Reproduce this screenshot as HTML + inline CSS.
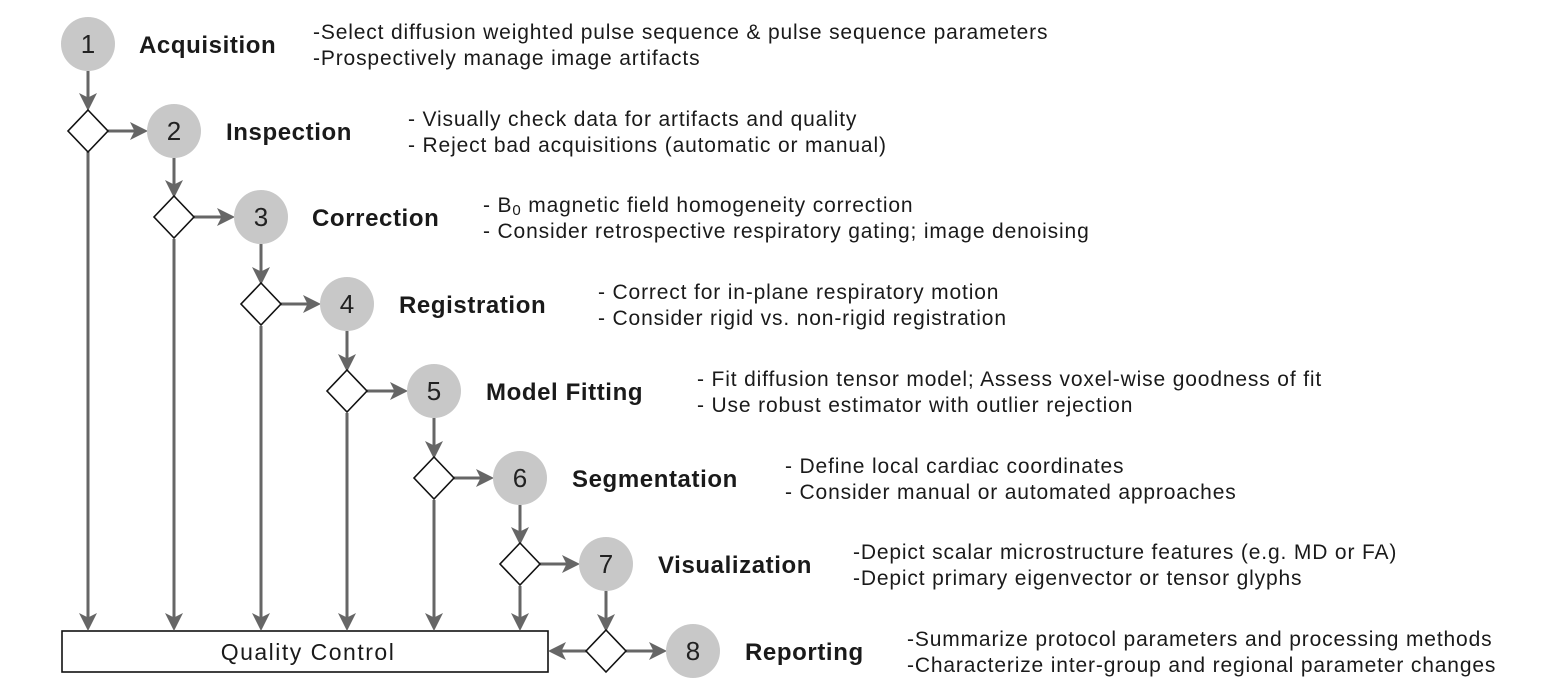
<!DOCTYPE html>
<html><head><meta charset="utf-8"><style>
html,body{margin:0;padding:0;background:#fff;}
svg{display:block;}
.t{font-family:"Liberation Sans",Arial,sans-serif;font-weight:bold;font-size:24px;letter-spacing:0.6px;fill:#1a1a1a;}
.d{font-family:"Liberation Sans",Arial,sans-serif;font-size:21px;letter-spacing:0.85px;fill:#1a1a1a;}
.n{font-family:"Liberation Sans",Arial,sans-serif;font-size:26px;fill:#222;text-anchor:middle;}
.l{stroke:#666;stroke-width:3;fill:none;}
.dm{fill:#fff;stroke:#111;stroke-width:1.6;}
</style></head><body>
<svg width="1553" height="692" viewBox="0 0 1553 692" xmlns="http://www.w3.org/2000/svg">
<defs><marker id="a" markerWidth="6" markerHeight="6" refX="5" refY="3" orient="auto" markerUnits="strokeWidth"><path d="M0,0 L6,3 L0,6 L1.5,3 z" fill="#666"/></marker></defs>
<rect x="62" y="631" width="486" height="41" fill="#fff" stroke="#111" stroke-width="1.6"/>
<text x="308" y="660" text-anchor="middle" style="font-family:'Liberation Sans',Arial,sans-serif;font-size:23px;letter-spacing:1.5px;fill:#1a1a1a">Quality Control</text>

<g class="l" marker-end="url(#a)">
<line x1="88" y1="71" x2="88" y2="108"/>
<line x1="108" y1="131" x2="145" y2="131"/>
<line x1="174" y1="158" x2="174" y2="195"/>
<line x1="194" y1="217" x2="232" y2="217"/>
<line x1="261" y1="244" x2="261" y2="282"/>
<line x1="281" y1="304" x2="318" y2="304"/>
<line x1="347" y1="331" x2="347" y2="369"/>
<line x1="367" y1="391" x2="405" y2="391"/>
<line x1="434" y1="418" x2="434" y2="456"/>
<line x1="454" y1="478" x2="491" y2="478"/>
<line x1="520" y1="505" x2="520" y2="542"/>
<line x1="540" y1="564" x2="577" y2="564"/>
<line x1="606" y1="591" x2="606" y2="629"/>
<line x1="626" y1="651" x2="664" y2="651"/>
<line x1="586" y1="651" x2="551" y2="651"/>
<line x1="88" y1="152" x2="88" y2="628"/>
<line x1="174" y1="239" x2="174" y2="628"/>
<line x1="261" y1="326" x2="261" y2="628"/>
<line x1="347" y1="413" x2="347" y2="628"/>
<line x1="434" y1="500" x2="434" y2="628"/>
<line x1="520" y1="586" x2="520" y2="628"/>
</g>

<g class="dm">
<polygon points="88,110 108,131 88,152 68,131"/>
<polygon points="174,196 194,217 174,238 154,217"/>
<polygon points="261,283 281,304 261,325 241,304"/>
<polygon points="347,370 367,391 347,412 327,391"/>
<polygon points="434,457 454,478 434,499 414,478"/>
<polygon points="520,543 540,564 520,585 500,564"/>
<polygon points="606,630 626,651 606,672 586,651"/>
</g>

<g fill="#c8c8c8">
<circle cx="88" cy="44" r="27"/><circle cx="174" cy="131" r="27"/><circle cx="261" cy="217" r="27"/><circle cx="347" cy="304" r="27"/>
<circle cx="434" cy="391" r="27"/><circle cx="520" cy="478" r="27"/><circle cx="606" cy="564" r="27"/><circle cx="693" cy="651" r="27"/>
</g>
<text class="n" x="88" y="53">1</text><text class="n" x="174" y="140">2</text><text class="n" x="261" y="226">3</text><text class="n" x="347" y="313">4</text>
<text class="n" x="434" y="400">5</text><text class="n" x="520" y="487">6</text><text class="n" x="606" y="573">7</text><text class="n" x="693" y="660">8</text>

<text class="t" x="139" y="53">Acquisition</text>
<text class="t" x="226" y="140">Inspection</text>
<text class="t" x="312" y="226">Correction</text>
<text class="t" x="399" y="313">Registration</text>
<text class="t" x="486" y="400">Model Fitting</text>
<text class="t" x="572" y="487">Segmentation</text>
<text class="t" x="658" y="573">Visualization</text>
<text class="t" x="745" y="660">Reporting</text>

<text class="d" x="313" y="39">-Select diffusion weighted pulse sequence &amp; pulse sequence parameters</text>
<text class="d" x="313" y="65">-Prospectively manage image artifacts</text>
<text class="d" x="408" y="126">- Visually check data for artifacts and quality</text>
<text class="d" x="408" y="152">- Reject bad acquisitions (automatic or manual)</text>
<text class="d" x="483" y="212">- B<tspan font-size="15" dy="3">0</tspan><tspan dy="-3"> magnetic field homogeneity correction</tspan></text>
<text class="d" x="483" y="238">- Consider retrospective respiratory gating; image denoising</text>
<text class="d" x="598" y="299">- Correct for in-plane respiratory motion</text>
<text class="d" x="598" y="325">- Consider rigid vs. non-rigid registration</text>
<text class="d" x="697" y="386">- Fit diffusion tensor model; Assess voxel-wise goodness of fit</text>
<text class="d" x="697" y="412">- Use robust estimator with outlier rejection</text>
<text class="d" x="785" y="473">- Define local cardiac coordinates</text>
<text class="d" x="785" y="499">- Consider manual or automated approaches</text>
<text class="d" x="853" y="559">-Depict scalar microstructure features (e.g. MD or FA)</text>
<text class="d" x="853" y="585">-Depict primary eigenvector or tensor glyphs</text>
<text class="d" x="907" y="646">-Summarize protocol parameters and processing methods</text>
<text class="d" x="907" y="672">-Characterize inter-group and regional parameter changes</text>
</svg>
</body></html>
